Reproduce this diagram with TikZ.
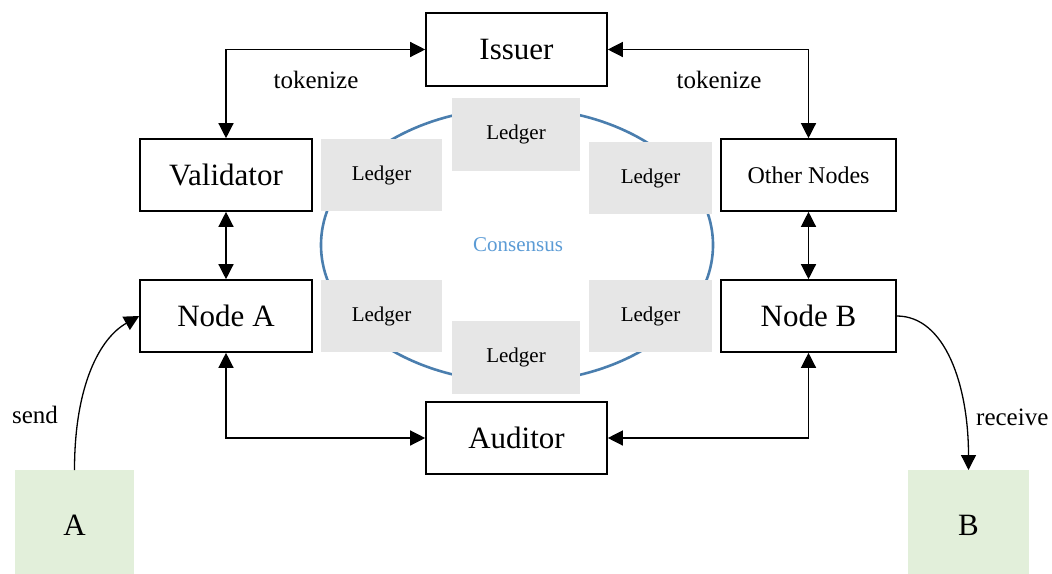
\documentclass[tikz,border=0pt]{standalone}
\usepackage{fontspec}
\setmainfont{Liberation Serif}
\usetikzlibrary{arrows.meta}
\definecolor{ledgergray}{HTML}{E6E6E6}
\definecolor{endgreen}{HTML}{E2EFDA}
\definecolor{ringblue}{HTML}{4A7EAE}
\definecolor{textblue}{HTML}{5B9BD5}
\begin{document}
\begin{tikzpicture}[x=1pt,y=-1pt,
  bigfont/.style={font=\fontsize{31}{36}\selectfont},
  midfont/.style={font=\fontsize{24}{28}\selectfont},
  lblfont/.style={font=\fontsize{25}{30}\selectfont},
  smallfont/.style={font=\fontsize{21}{25}\selectfont},
  mainbox/.style={draw, line width=1.6pt, inner sep=0pt, minimum width=172pt, minimum height=72pt, bigfont},
  ledgerbox/.style={fill=ledgergray, inner sep=0pt, minimum width=121pt, minimum height=72pt, smallfont},
  endbox/.style={fill=endgreen, inner sep=0pt, minimum width=120pt, minimum height=110pt, bigfont},
  dbl/.style={line width=1.3pt, {Triangle[length=15pt,width=15pt]}-{Triangle[length=15pt,width=15pt]}},
  arr/.style={line width=1.3pt, -{Triangle[length=15pt,width=15pt]}},
  lbl/.style={lblfont, inner sep=0pt}
]
\useasboundingbox (0,0) rectangle (1052,573);
% consensus ring
\draw[ringblue, line width=2.6pt] (517,245) ellipse [x radius=196, y radius=137];
% ledgers
\node[ledgerbox, minimum width=128pt, minimum height=73pt] (LT) at (516,134.5) {Ledger};
\node[ledgerbox] (L1) at (381.5,175) {Ledger};
\node[ledgerbox, minimum width=123pt] (R1) at (650.5,178) {Ledger};
\node[ledgerbox] (L2) at (381.5,316) {Ledger};
\node[ledgerbox, minimum width=123pt] (R2) at (650.5,316) {Ledger};
\node[ledgerbox, minimum width=128pt, minimum height=73pt] (LB) at (516,357.5) {Ledger};
\node[smallfont, text=textblue, inner sep=0pt] (cons) at (518,245) {Consensus};
% main boxes
\node[mainbox, minimum width=181pt, minimum height=73pt] (Issuer) at (516.5,49.5) {Issuer};
\node[mainbox] (Validator) at (226,175) {Validator};
\node[mainbox] (NodeA) at (226,316) {Node A};
\node[mainbox, minimum width=175pt, midfont] (Other) at (808.5,175) {Other Nodes};
\node[mainbox, minimum width=175pt] (NodeB) at (808.5,316) {Node B};
\node[mainbox, minimum width=181pt] (Auditor) at (516.5,438) {Auditor};
% end boxes
\node[endbox, minimum width=119pt] (A) at (74.5,525) {A};
\node[endbox, minimum width=121pt] (B) at (968.5,525) {B};
% connectors
\draw[dbl] (Validator.north) |- (Issuer.west);
\draw[dbl] (Issuer.east) -| (Other.north);
\draw[dbl] (Validator.south) -- (NodeA.north);
\draw[dbl] (Other.south) -- (NodeB.north);
\draw[dbl] (NodeA.south) |- (Auditor.west);
\draw[dbl] (NodeB.south) |- (Auditor.east);
\coordinate (Atop) at (74.5,470);
\coordinate (Btop) at (968.5,470);
\draw[arr] (Atop) .. controls (74.5,385) and (100,338) .. (NodeA.west);
\draw[arr] (NodeB.east) .. controls (945,316) and (968.5,385) .. (Btop);
% labels
\node[lbl] (tokL) at (316,80) {tokenize};
\node[lbl] (tokR) at (719,80) {tokenize};
\node[lbl] (send) at (35,415) {send};
\node[lbl, anchor=west] (recv) at (976,417) {receive};
\end{tikzpicture}
\end{document}
